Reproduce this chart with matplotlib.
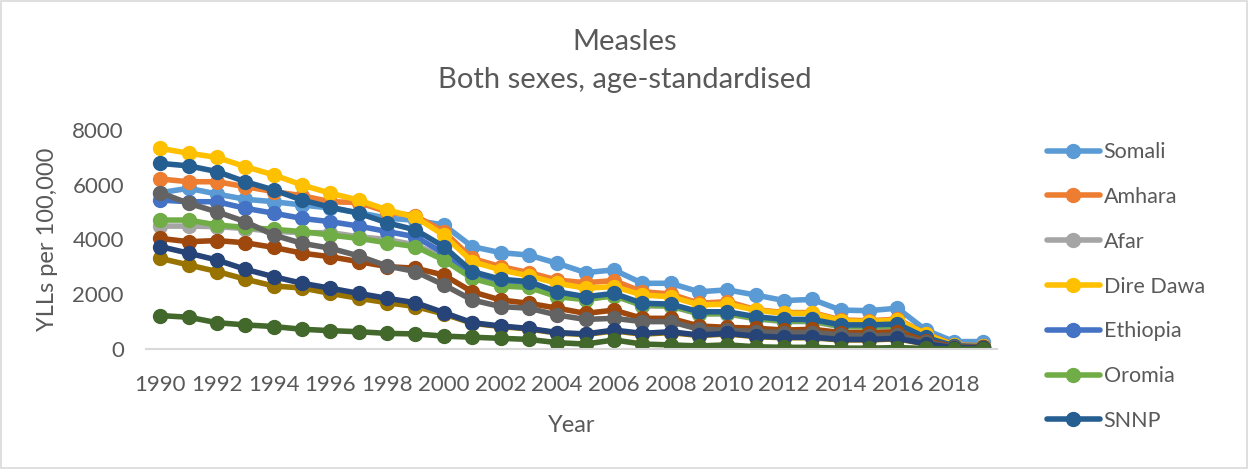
import matplotlib.pyplot as plt
from matplotlib.patches import Rectangle

years = list(range(1990, 2020))

# YLLs per 100,000, 1990-2019
somali = [5710, 5870, 5660, 5470, 5380, 5260, 5150, 4980, 4780, 4700,
          4530, 3740, 3520, 3430, 3130, 2790, 2890, 2400, 2400, 2090,
          2160, 1970, 1770, 1810, 1420, 1400, 1490, 690, 270, 270]
amhara = [6210, 6110, 6110, 5930, 5750, 5600, 5380, 5350, 5010, 4860,
          4290, 3310, 3010, 2790, 2520, 2420, 2500, 2090, 2010, 1670,
          1730, 1440, 1330, 1330, 1060, 1030, 1090, 560, 150, 120]
afar = [4490, 4490, 4470, 4400, 4300, 4250, 4250, 4100, 4000, 3800,
        3350, 2650, 2400, 2300, 1950, 1820, 1950, 1580, 1560, 1280,
        1280, 1100, 1000, 1000, 810, 800, 830, 370, 90, 70]
dire_dawa = [7330, 7150, 7000, 6660, 6360, 5990, 5690, 5440, 5080, 4810,
             4160, 3190, 2890, 2670, 2400, 2220, 2280, 1970, 1910, 1610,
             1640, 1420, 1300, 1300, 1030, 1000, 1060, 550, 130, 110]
ethiopia = [5440, 5380, 5380, 5140, 4960, 4770, 4650, 4490, 4290, 4100,
            3500, 2750, 2500, 2400, 2050, 1870, 1990, 1620, 1600, 1320,
            1320, 1140, 1040, 1040, 850, 840, 870, 400, 100, 80]
oromia = [4710, 4710, 4530, 4440, 4370, 4290, 4160, 4040, 3880, 3740,
          3250, 2580, 2300, 2250, 1910, 1800, 1950, 1600, 1580, 1290,
          1300, 1120, 1020, 1020, 830, 820, 850, 380, 90, 70]
snnp = [6780, 6690, 6480, 6110, 5810, 5440, 5180, 4960, 4610, 4350,
        3740, 2830, 2550, 2460, 2090, 1910, 2030, 1670, 1640, 1360,
        1360, 1180, 1080, 1080, 880, 880, 910, 420, 110, 90]
tigray = [4040, 3920, 3960, 3880, 3710, 3500, 3370, 3190, 3010, 2950,
          2700, 2090, 1790, 1670, 1490, 1300, 1420, 1120, 1120, 840,
          790, 760, 690, 720, 600, 600, 630, 300, 80, 60]
benishangul = [5710, 5320, 5010, 4650, 4160, 3860, 3680, 3400, 3030, 2830,
               2340, 1790, 1550, 1490, 1240, 1080, 1120, 1000, 1000, 720,
               690, 630, 600, 600, 510, 480, 510, 240, 60, 50]
harari = [3310, 3070, 2830, 2550, 2300, 2230, 2030, 1850, 1690, 1550,
          1280, 940, 820, 730, 580, 530, 660, 540, 600, 490,
          550, 450, 410, 410, 330, 330, 370, 180, 40, 30]
gambella = [3740, 3500, 3250, 2910, 2640, 2400, 2220, 2030, 1850, 1690,
            1330, 960, 840, 750, 600, 550, 690, 570, 630, 510,
            570, 470, 430, 430, 350, 350, 390, 190, 50, 40]
addis_ababa = [1220, 1160, 960, 880, 820, 720, 670, 630, 570, 550,
               470, 430, 390, 350, 230, 180, 330, 180, 150, 110,
               150, 80, 60, 60, 30, 30, 50, 20, 0, 0]

names = ["Somali", "Amhara", "Afar", "Dire Dawa", "Ethiopia", "Oromia", "SNNP",
         "Tigray", "Benishangul-Gumuz", "Harari", "Gambella", "Addis Ababa"]
series = [somali, amhara, afar, dire_dawa, ethiopia, oromia, snnp,
          tigray, benishangul, harari, gambella, addis_ababa]
colors = ["#5B9BD5", "#ED7D31", "#A5A5A5", "#FFC000", "#4472C4", "#70AD47",
          "#255E91", "#9E480E", "#636363", "#997300", "#264478", "#43682B"]

plt.rcParams['font.family'] = ['Lato', 'DejaVu Sans']
txt = "#595959"

fig = plt.figure(figsize=(12.49, 4.69), dpi=100)
fig.patches.append(Rectangle((0.001, 0.003), 0.997, 0.994, transform=fig.transFigure,
                             fill=False, edgecolor="#D9D9D9", lw=1.2))
ax = fig.add_axes([0.117, 0.2559, 0.681, 0.4669])

handles = []
for name, vals, c in zip(names, series, colors):
    h, = ax.plot(years, vals, color=c, lw=4, marker='o', markersize=10,
                 solid_capstyle='round', label=name)
    handles.append(h)

ax.set_xlim(1989.5, 2019.5)
ax.set_ylim(0, 8000)
ax.set_xticks(years[::2])
ax.set_yticks(range(0, 8001, 2000))
ax.tick_params(length=0, labelsize=16, colors=txt)
ax.tick_params(axis='x', pad=19)
ax.tick_params(axis='y', pad=16)
for s in ['top', 'right', 'left']:
    ax.spines[s].set_visible(False)
ax.spines['bottom'].set_color("#D9D9D9")
ax.spines['bottom'].set_linewidth(1.5)

ax.set_xlabel("Year", fontsize=17, color=txt, labelpad=14)
ax.set_ylabel("YLLs per 100,000", fontsize=17, color=txt, labelpad=10)

fig.text(0.5, 0.91, "Measles", ha='center', va='center', fontsize=21, color=txt)
fig.text(0.5, 0.83, "Both sexes, age-standardised", ha='center', va='center',
         fontsize=21, color=txt)

# only the first seven series fit in the legend box
leg = fig.legend(handles=handles[:7], loc='upper left', bbox_to_anchor=(0.831, 0.715),
                 frameon=False, fontsize=15.5, labelcolor=txt, handlelength=2.5,
                 handletextpad=0.15, labelspacing=1.15, borderaxespad=0)

fig.savefig("out.png", dpi=100)
